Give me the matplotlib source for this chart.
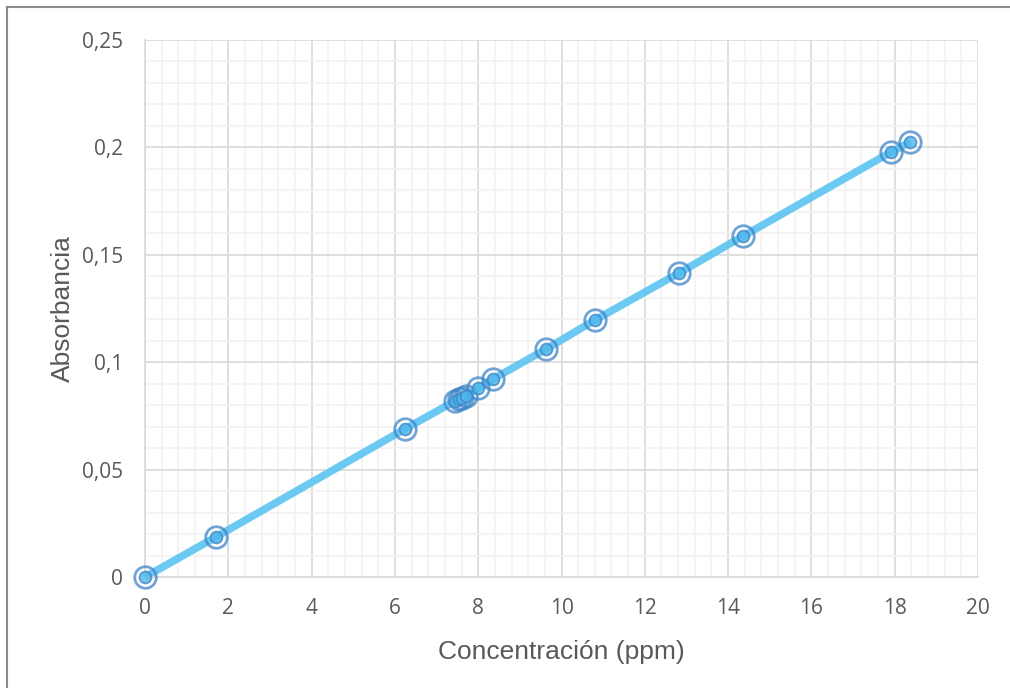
import matplotlib
matplotlib.use("Agg")
import matplotlib.pyplot as plt
from matplotlib.ticker import MultipleLocator, FuncFormatter
from matplotlib.lines import Line2D

# Data
concentracion = [0.0, 1.70, 6.24, 7.45, 7.55, 7.62, 7.70, 8.00, 8.36, 9.63, 10.80, 12.82, 14.36, 17.91, 18.37]
absorbancia = [0.0, 0.0186, 0.0689, 0.0820, 0.0828, 0.0835, 0.0842, 0.0880, 0.0922, 0.1061, 0.1196, 0.1415, 0.1587, 0.1978, 0.2025]
x_ticks = [0, 2, 4, 6, 8, 10, 12, 14, 16, 18, 20]
y_ticks = [0, 0.05, 0.1, 0.15, 0.2, 0.25]
x_label = "Concentración (ppm)"
y_label = "Absorbancia"

W, H = 1010, 688
fig = plt.figure(figsize=(W / 100, H / 100), dpi=100)
ax = fig.add_axes([145 / W, 1 - 577 / H, (978 - 145) / W, (577 - 40) / H])

ax.set_xlim(0, 20)
ax.set_ylim(0, 0.25)
ax.xaxis.set_minor_locator(MultipleLocator(0.4))
ax.yaxis.set_minor_locator(MultipleLocator(0.01))
ax.set_xticks(x_ticks)
ax.set_yticks(y_ticks)

def fmt(v, pos):
    s = ("%.2f" % v).rstrip("0").rstrip(".")
    return s.replace(".", ",")

ax.xaxis.set_major_formatter(FuncFormatter(fmt))
ax.yaxis.set_major_formatter(FuncFormatter(fmt))

ax.grid(which="minor", color="#F2F2F2", linewidth=1.2, zorder=0)
ax.grid(which="major", color="#D9D9D9", linewidth=1.2, zorder=0.5)
ax.set_axisbelow(True)
for side in ["top", "right"]:
    ax.spines[side].set_visible(False)
for side in ["left", "bottom"]:
    ax.spines[side].set_color("#D9D9D9")
    ax.spines[side].set_linewidth(1.2)

ax.tick_params(which="both", length=0)
ax.tick_params(axis="x", pad=15, labelsize=15, labelcolor="#595959")
ax.tick_params(axis="y", pad=16, labelsize=15, labelcolor="#595959")
for lbl in ax.get_xticklabels() + ax.get_yticklabels():
    lbl.set_fontfamily("Open Sans")

ax.plot(concentracion, absorbancia, color="#5BC4F1", linewidth=5.5, alpha=0.9,
        solid_capstyle="butt", zorder=2, clip_on=False)
ax.plot(concentracion, absorbancia, linestyle="none", marker="o", markersize=15.5,
        markerfacecolor="none", markeredgecolor="#3F86C8", markeredgewidth=2.0,
        alpha=0.75, zorder=3, clip_on=False)
ax.plot(concentracion, absorbancia, linestyle="none", marker="o", markersize=8.5,
        markerfacecolor="#4DB8EC", markeredgecolor="#3F86C8", markeredgewidth=1.3,
        alpha=0.8, zorder=4, clip_on=False)

ax.set_xlabel(x_label, fontsize=19, color="#595959", family="Liberation Sans", labelpad=15)
ax.set_ylabel(y_label, fontsize=19, color="#595959", family="Liberation Sans", labelpad=5)

# outer chart border
fig.add_artist(Line2D([7 / W, 7 / W], [1 - 7 / H, 0], transform=fig.transFigure,
                      color="#8C8C8C", linewidth=1.5))
fig.add_artist(Line2D([7 / W, 1], [1 - 7 / H, 1 - 7 / H], transform=fig.transFigure,
                      color="#8C8C8C", linewidth=1.5))

fig.savefig("out.png", dpi=100, facecolor="white")
